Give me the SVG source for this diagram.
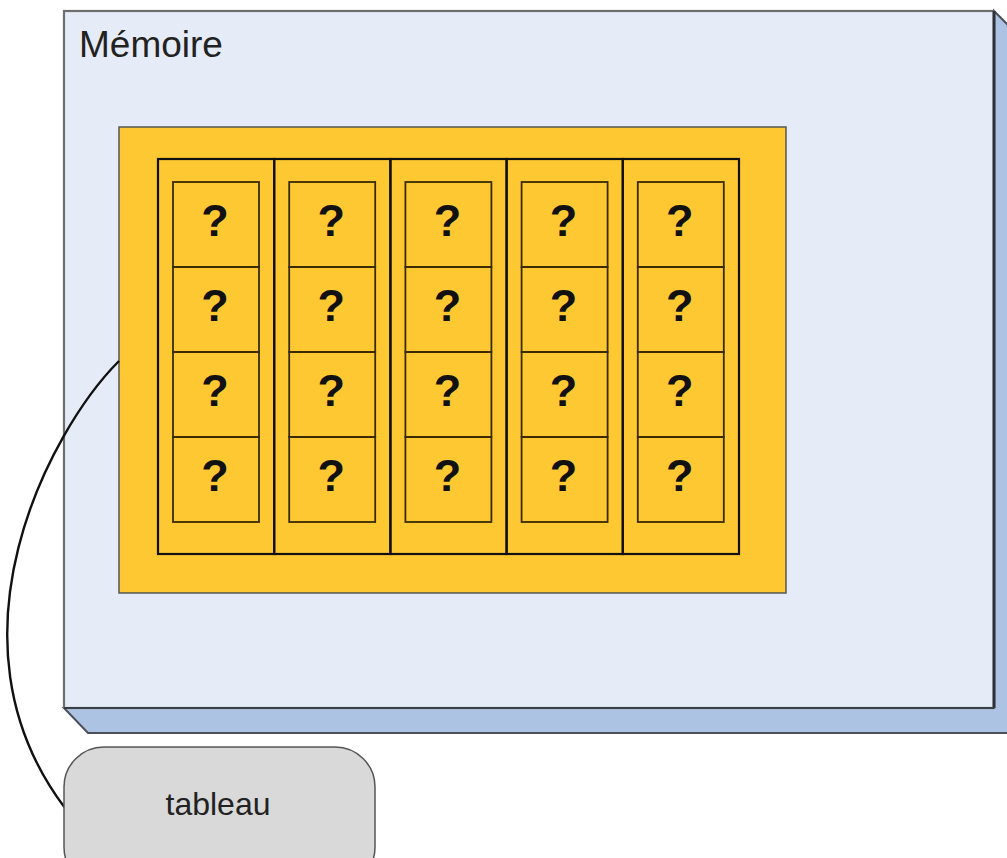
<svg xmlns="http://www.w3.org/2000/svg" width="1007" height="858" viewBox="0 0 1007 858">
<style>
.q{font-family:"Liberation Sans",Arial,sans-serif;font-weight:bold;font-size:45px;fill:#111;text-anchor:middle}
.col{fill:none;stroke:#111;stroke-width:2.2}
.cell{fill:none;stroke:#3a2a00;stroke-width:1.8}
.lbl{font-family:"Liberation Sans",Arial,sans-serif;fill:#222}
</style>
<rect width="1007" height="858" fill="#ffffff"/>
<g id="memoire">
<polygon points="994,11 1020,37 1020,733 88,733 64,708 994,708" fill="#adc3e3" stroke="#4a4f58" stroke-width="2"/>
<rect x="64" y="11" width="930" height="697" fill="#e6ecf7" stroke="#6e6e6e" stroke-width="2.2"/>
<line x1="994" y1="11" x2="994" y2="708" stroke="#2d3036" stroke-width="3"/>
<line x1="64" y1="708" x2="994" y2="708" stroke="#3a3e45" stroke-width="2.2"/>
<text class="lbl" x="79" y="57" font-size="37">Mémoire</text>
</g>
<g id="tableau-array">
<rect x="119" y="127" width="667" height="466" fill="#fec832" stroke="#555" stroke-width="1.5"/>
<rect class="col" x="158" y="159" width="116.2" height="395"/>
<rect class="col" x="274.2" y="159" width="116.2" height="395"/>
<rect class="col" x="390.4" y="159" width="116.2" height="395"/>
<rect class="col" x="506.6" y="159" width="116.2" height="395"/>
<rect class="col" x="622.8" y="159" width="116.2" height="395"/>
<g id="cells">
<g transform="translate(173,0)">
<rect class="cell" x="0" y="182" width="86" height="85"/><rect class="cell" x="0" y="267" width="86" height="85"/><rect class="cell" x="0" y="352" width="86" height="85"/><rect class="cell" x="0" y="437" width="86" height="85"/>
<text class="q" x="42" y="236">?</text><text class="q" x="42" y="321">?</text><text class="q" x="42" y="406">?</text><text class="q" x="42" y="491">?</text>
</g>
<g transform="translate(289.2,0)">
<rect class="cell" x="0" y="182" width="86" height="85"/><rect class="cell" x="0" y="267" width="86" height="85"/><rect class="cell" x="0" y="352" width="86" height="85"/><rect class="cell" x="0" y="437" width="86" height="85"/>
<text class="q" x="42" y="236">?</text><text class="q" x="42" y="321">?</text><text class="q" x="42" y="406">?</text><text class="q" x="42" y="491">?</text>
</g>
<g transform="translate(405.4,0)">
<rect class="cell" x="0" y="182" width="86" height="85"/><rect class="cell" x="0" y="267" width="86" height="85"/><rect class="cell" x="0" y="352" width="86" height="85"/><rect class="cell" x="0" y="437" width="86" height="85"/>
<text class="q" x="42" y="236">?</text><text class="q" x="42" y="321">?</text><text class="q" x="42" y="406">?</text><text class="q" x="42" y="491">?</text>
</g>
<g transform="translate(521.6,0)">
<rect class="cell" x="0" y="182" width="86" height="85"/><rect class="cell" x="0" y="267" width="86" height="85"/><rect class="cell" x="0" y="352" width="86" height="85"/><rect class="cell" x="0" y="437" width="86" height="85"/>
<text class="q" x="42" y="236">?</text><text class="q" x="42" y="321">?</text><text class="q" x="42" y="406">?</text><text class="q" x="42" y="491">?</text>
</g>
<g transform="translate(637.8,0)">
<rect class="cell" x="0" y="182" width="86" height="85"/><rect class="cell" x="0" y="267" width="86" height="85"/><rect class="cell" x="0" y="352" width="86" height="85"/><rect class="cell" x="0" y="437" width="86" height="85"/>
<text class="q" x="42" y="236">?</text><text class="q" x="42" y="321">?</text><text class="q" x="42" y="406">?</text><text class="q" x="42" y="491">?</text>
</g>
</g>
</g>
<g id="connectors">
<path d="M119,361 C50,430 -62,640 65,808" fill="none" stroke="#111" stroke-width="2.4"/>
</g>
<g id="tableau">
<rect x="64" y="747" width="311" height="140" rx="40" ry="40" fill="#d9d9d9" stroke="#555" stroke-width="1.5"/>
<text class="lbl" x="218" y="815" font-size="32" text-anchor="middle">tableau</text>
</g>
</svg>
